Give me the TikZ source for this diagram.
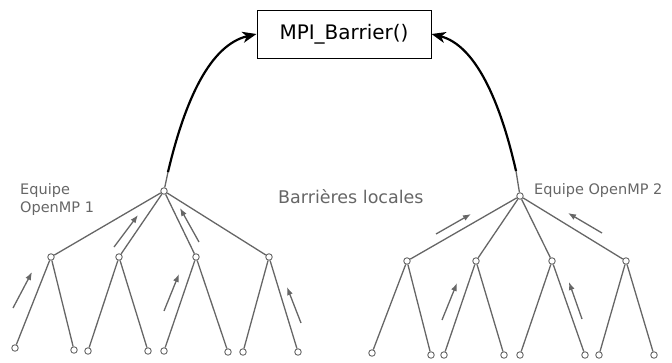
\documentclass[tikz,border=0pt]{standalone}
\usepackage{fontspec}
\setmainfont{DejaVu Sans}
\usetikzlibrary{arrows.meta}
\definecolor{tg}{HTML}{666666}
\tikzset{
  pt/.style={circle,draw=tg,fill=white,line width=0.9pt,inner sep=0pt,minimum size=6.5pt},
  edge/.style={draw=tg,line width=1.3pt},
  flow/.style={draw=tg,line width=1.3pt,-{Latex[length=8pt,width=6pt]}},
  big/.style={draw=black,line width=2.2pt,-{Stealth[length=14pt,width=11pt,inset=4pt]}},
  lbl/.style={text=tg,font=\fontsize{14.5}{18}\selectfont,align=left,inner sep=0pt}
}
\begin{document}
\begin{tikzpicture}[x=1pt,y=-1pt]
\useasboundingbox (0,0) rectangle (672,362);
% box
\node[draw=black,line width=1pt,minimum width=174pt,minimum height=48pt,inner sep=0pt,font=\fontsize{20}{24}\selectfont] (mpi) at (344,34) {MPI\_Barrier()};
% left tree
\node[pt] (L) at (164,191) {};
\node[pt] (L1) at (51,257) {};
\node[pt] (L2) at (119,257) {};
\node[pt] (L3) at (196,257) {};
\node[pt] (L4) at (269,257) {};
\node[pt] (La) at (15,348) {};
\node[pt] (Lb) at (74,350) {};
\node[pt] (Lc) at (88,351) {};
\node[pt] (Ld) at (148,351) {};
\node[pt] (Le) at (164,351) {};
\node[pt] (Lf) at (228,352) {};
\node[pt] (Lg) at (243,352) {};
\node[pt] (Lh) at (298,352) {};
\foreach \a/\b in {L/L1,L/L2,L/L3,L/L4,L1/La,L1/Lb,L2/Lc,L2/Ld,L3/Le,L3/Lf,L4/Lg,L4/Lh}
  \draw[edge] (\a) -- (\b);
% right tree
\node[pt] (R) at (520,196) {};
\node[pt] (R1) at (407,261) {};
\node[pt] (R2) at (476,261) {};
\node[pt] (R3) at (552,261) {};
\node[pt] (R4) at (626,261) {};
\node[pt] (Ra) at (372,353) {};
\node[pt] (Rb) at (431,355) {};
\node[pt] (Rc) at (444,355) {};
\node[pt] (Rd) at (504,355) {};
\node[pt] (Re) at (520,355) {};
\node[pt] (Rf) at (585,355) {};
\node[pt] (Rg) at (599,355) {};
\node[pt] (Rh) at (654,355) {};
\foreach \a/\b in {R/R1,R/R2,R/R3,R/R4,R1/Ra,R1/Rb,R2/Rc,R2/Rd,R3/Re,R3/Rf,R4/Rg,R4/Rh}
  \draw[edge] (\a) -- (\b);
% small flow arrows
\coordinate (a1s) at (13,308); \coordinate (a1e) at (32,272);
\coordinate (a2s) at (114,247); \coordinate (a2e) at (138,215);
\coordinate (a3s) at (164,311); \coordinate (a3e) at (179,274);
\coordinate (a4s) at (199,242); \coordinate (a4e) at (180,208);
\coordinate (a5s) at (301,323); \coordinate (a5e) at (287,287);
\coordinate (b1s) at (436,234); \coordinate (b1e) at (471,214);
\coordinate (b2s) at (602,233); \coordinate (b2e) at (568,213);
\coordinate (b3s) at (442,320); \coordinate (b3e) at (457,283);
\coordinate (b4s) at (582,319); \coordinate (b4e) at (569,282);
\foreach \s/\e in {a1s/a1e,a2s/a2e,a3s/a3e,a4s/a4e,a5s/a5e,b1s/b1e,b2s/b2e,b3s/b3e,b4s/b4e}
  \draw[flow] (\s) -- (\e);
% big arrows to MPI
\coordinate (lc) at (168,172);
\coordinate (rc) at (516,171);
\draw[edge] (L) -- (lc);
\draw[edge] (R) -- (rc);
\draw[big] (lc) .. controls (185,100) and (210,45) .. (mpi.west);
\draw[big] (rc) .. controls (500,100) and (475,45) .. (mpi.east);
% labels
\node[lbl,anchor=north west] (t1) at (20,183) {Equipe\\OpenMP 1};
\node[lbl,anchor=west] (t2) at (534,190) {Equipe OpenMP 2};
\node[lbl,anchor=west,font=\fontsize{17.5}{20}\selectfont] (t3) at (278,197) {Barrières locales};
\end{tikzpicture}
\end{document}
